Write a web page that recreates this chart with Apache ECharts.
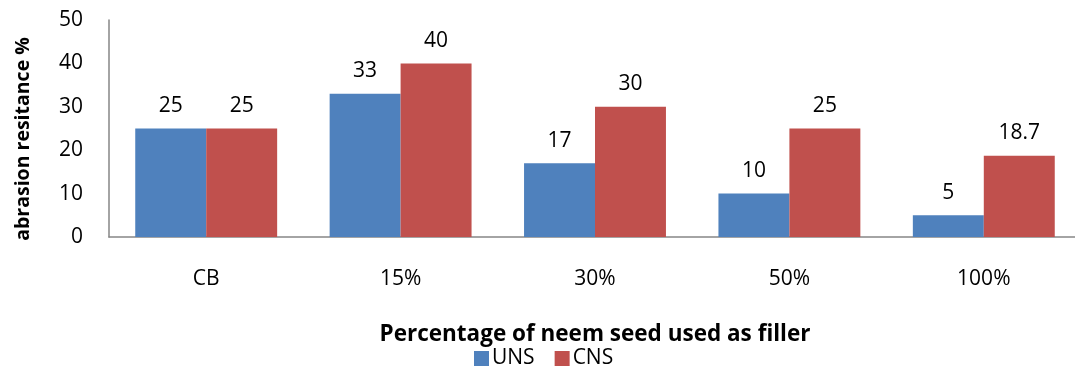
<!DOCTYPE html>
<html>
<head>
<meta charset="utf-8">
<script src="https://cdn.jsdelivr.net/npm/echarts@6/dist/echarts.min.js"></script>
<style>html,body{margin:0;padding:0;background:#fff}#c{width:1075px;height:366px}</style>
</head>
<body>
<div id="c"></div>
<script>
const categories = ['CB', '15%', '30%', '50%', '100%'];
const unsValues = [25, 33, 17, 10, 5];
const cnsValues = [25, 40, 30, 25, 18.7];
const seriesNames = ['UNS', 'CNS'];
const yTicks = {min: 0, max: 50, interval: 10};
const xTitle = 'Percentage of neem seed used as filler';
const yTitle = 'abrasion resitance %';

const FONT = '"Open Sans", sans-serif';
const chart = echarts.init(document.getElementById('c'));
const labelStyle = {show: true, position: 'top', distance: 12, color: '#000', fontSize: 21, fontFamily: FONT};
chart.setOption({
  animation: false,
  grid: {left: 109, width: 972, top: 20, bottom: 129, containLabel: false, outerBoundsMode: 'none'},
  legend: {
    data: seriesNames, left: 469, top: 343, itemWidth: 15, itemHeight: 15, itemGap: 20,
    icon: 'rect', textStyle: {fontSize: 21, fontFamily: FONT, color: '#000', padding: [0, 0, 0, -2]}
  },
  xAxis: {
    type: 'category', data: categories,
    axisLine: {lineStyle: {color: '#868686', width: 1.5}},
    axisTick: {show: false},
    axisLabel: {color: '#000', fontSize: 21, fontFamily: FONT, margin: 32},
    name: xTitle, nameLocation: 'middle', nameGap: 86,
    nameTextStyle: {fontSize: 22.5, fontWeight: 'bold', fontFamily: FONT, color: '#000'}
  },
  yAxis: {
    type: 'value', min: yTicks.min, max: yTicks.max, interval: yTicks.interval,
    axisLine: {show: true, lineStyle: {color: '#868686', width: 1.5}},
    axisTick: {show: false},
    splitLine: {show: false},
    axisLabel: {color: '#000', fontSize: 21, fontFamily: FONT, margin: 26}
  },
  graphic: [{
    type: 'text', x: 23, y: 139, rotation: Math.PI / 2,
    style: {text: yTitle, fontSize: 19.5, fontWeight: 'bold', fontFamily: FONT, fill: '#000',
      align: 'center', verticalAlign: 'middle'}
  }],
  series: [
    {name: seriesNames[0], type: 'bar', data: unsValues, barGap: '0%', barCategoryGap: '27%',
      itemStyle: {color: '#4F81BD'}, label: labelStyle},
    {name: seriesNames[1], type: 'bar', data: cnsValues, barGap: '0%', barCategoryGap: '27%',
      itemStyle: {color: '#C0504D'}, label: labelStyle}
  ]
});
</script>
</body>
</html>
